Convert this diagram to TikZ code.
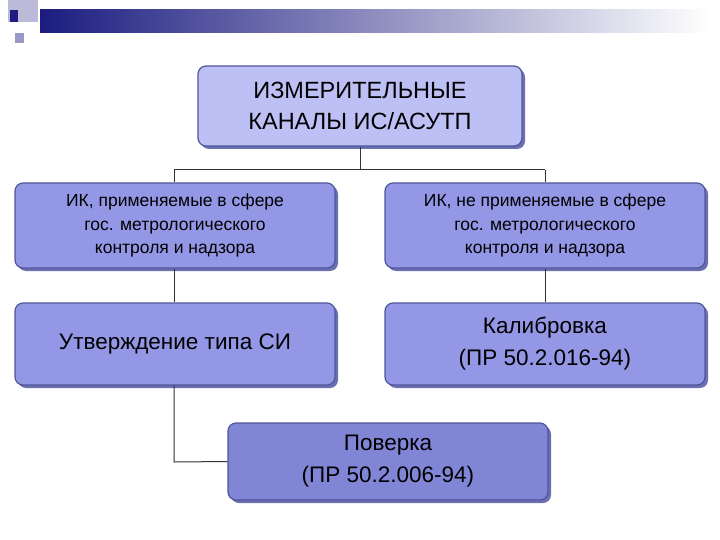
\documentclass[tikz,border=0pt]{standalone}
\usepackage{fontspec}
\setmainfont{Liberation Sans}
\usetikzlibrary{shadows}
\begin{document}
\begin{tikzpicture}[x=1pt,y=-1pt,
  box/.style={draw=bordc,line width=1.2pt,rounded corners=8pt,align=center,font=\fontsize{17.5}{23.5}\selectfont,inner sep=0pt,
    drop shadow={shadow xshift=3pt,shadow yshift=-3pt,fill=shadc,opacity=1}},
  conn/.style={draw=black!80,line width=1pt}]
\definecolor{bordc}{HTML}{50559A}
\definecolor{shadc}{HTML}{6A6FB0}
\definecolor{topc}{HTML}{BDC0F4}
\definecolor{midc}{HTML}{9397E6}
\definecolor{lowc}{HTML}{8185D6}
\definecolor{navy}{HTML}{1C1C80}
\useasboundingbox (0,0) rectangle (720,540);
% header
\shade[left color=navy,right color=white] (40,10) rectangle (710,33);
\fill[navy!30] (8,0) rectangle (38,22);
\fill[navy] (10,10) rectangle (18,22);
\fill[navy!45] (15,33) rectangle (24,43);
% connectors
\coordinate (j) at (360,170);
\coordinate (jl) at (174,170);
\coordinate (jr) at (545,170);
\coordinate (bl) at (174,462);
\node[box,fill=topc,minimum width=324pt,minimum height=80pt,font=\fontsize{23.5}{31}\selectfont] (top) at (360,106) {ИЗМЕРИТЕЛЬНЫЕ\\КАНАЛЫ ИС/АСУТП};
\node[box,fill=midc,minimum width=320pt,minimum height=85pt] (l1) at (175,225.5) {ИК, применяемые в сфере\\гос. метрологического\\контроля и надзора};
\node[box,fill=midc,minimum width=320pt,minimum height=85pt] (r1) at (545,225.5) {ИК, не применяемые в сфере\\гос. метрологического\\контроля и надзора};
\node[box,fill=midc,minimum width=320pt,minimum height=82pt,font=\fontsize{22.5}{32}\selectfont] (l2) at (175,344) {Утверждение типа СИ};
\node[box,fill=midc,minimum width=320pt,minimum height=82pt,font=\fontsize{22.5}{32}\selectfont] (r2) at (545,344) {Калибровка\\(ПР 50.2.016-94)};
\node[box,fill=lowc,minimum width=320pt,minimum height=77pt,font=\fontsize{22.5}{32}\selectfont] (b) at (388,461.5) {Поверка\\(ПР 50.2.006-94)};
\draw[conn] (top.south) -- (j);
\draw[conn] (jl) -- (jr);
\draw[conn] (jl) -- (l1.north -| jl);
\draw[conn] (jr) -- (r1.north);
\draw[conn] (l1.south -| jl) -- (l2.north -| jl);
\draw[conn] (r1.south) -- (r2.north);
\draw[conn] (l2.south -| jl) -- (bl) -- (b.west);
\end{tikzpicture}
\end{document}
